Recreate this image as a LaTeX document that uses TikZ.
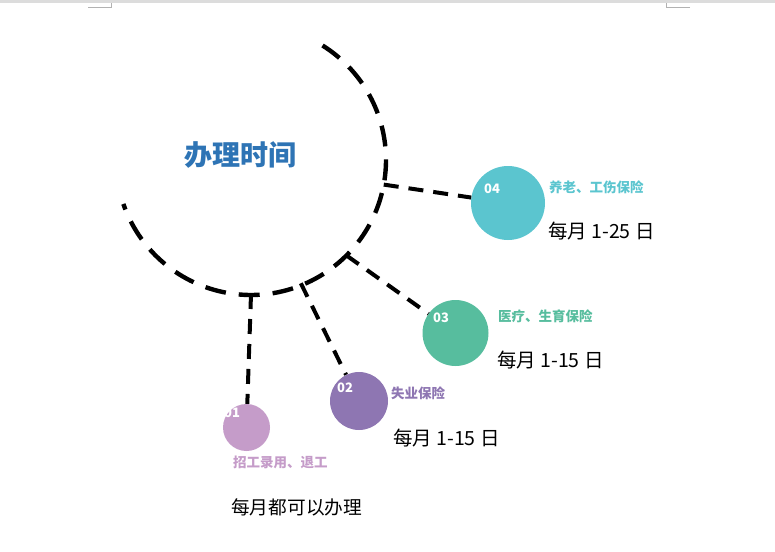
\documentclass[tikz,border=0pt]{standalone}
\usepackage{fontspec}
\usetikzlibrary{calc}
\setmainfont{Noto Sans CJK SC}
\newfontfamily\cjk{Noto Sans CJK SC}
\definecolor{cFour}{HTML}{5BC5CF}
\definecolor{cThree}{HTML}{57BD9E}
\definecolor{cTwo}{HTML}{8E76B2}
\definecolor{cOne}{HTML}{C59CC9}
\definecolor{cTitle}{HTML}{2E74B5}
\definecolor{cStrip}{HTML}{DCDCDC}
\begin{document}
\begin{tikzpicture}[x=1pt,y=-1pt,
  dot/.style={circle,fill=#1,draw=none,inner sep=0pt},
  num/.style={text=white,font=\cjk\bfseries\fontsize{13}{13}\selectfont,inner sep=0pt},
  cat/.style={text=#1,font=\cjk\bfseries\fontsize{13.5}{14}\selectfont,anchor=west,inner sep=0pt},
  when/.style={text=black,font=\cjk\fontsize{19.5}{20}\selectfont,anchor=west,inner sep=0pt},
  link/.style={line width=4pt,dash pattern=on 15pt off 10pt},
  hubarc/.style={line width=4.4pt,dash pattern=on 21pt off 13pt}]
\useasboundingbox (0,0) rectangle (775,551);
% page strip and corner marks
\fill[cStrip] (0,0) rectangle (775,3);
\draw[gray!60,line width=0.8pt] (88,7) -- (111,7) -- (111,3);
\draw[gray!60,line width=0.8pt] (690,7) -- (666,7) -- (666,3);
% hub arc
\coordinate (hub) at (251,160);
\draw[hubarc] plot[domain=-58:161,samples=120] ({251+135*cos(\x)},{160+135*sin(\x)});
\node[text=cTitle,font=\cjk\bfseries\fontsize{28}{28}\selectfont,inner sep=0pt] (title) at (240,155) {办理时间};
% arc points
\coordinate (a4) at ($(hub)+(10.5:135)$);
\coordinate (a3) at ($(hub)+(45:135)$);
\coordinate (a2) at ($(hub)+(68:133)$);
\coordinate (a1) at ($(hub)+(90:134)$);
% circles
\node[dot=cFour,minimum size=74pt] (c4) at (508,203) {};
\node[dot=cThree,minimum size=66pt] (c3) at (455.5,333) {};
\node[dot=cTwo,minimum size=58pt] (c2) at (359,401) {};
\node[dot=cOne,minimum size=47pt] (c1) at (246.5,427.5) {};
% connectors
\draw[link] (a4) -- (c4);
\draw[link] (a3) -- (c3);
\draw[link] (a2) -- (c2);
\draw[link] (a1) -- (c1);
% numbers
\node[num] (n4) at (492,189) {04};
\node[num] (n3) at (441,318) {03};
\node[num] (n2) at (345,388) {02};
\node[num] (n1) at (232,413) {01};
% categories
\node[cat=cFour] (t4) at (549,187) {养老、工伤保险};
\node[cat=cThree] (t3) at (498,316) {医疗、生育保险};
\node[cat=cTwo] (t2) at (391,393) {失业保险};
\node[cat=cOne] (t1) at (233,462) {招工录用、退工};
% dates
\node[when] (d4) at (548,231) {每月 1-25 日};
\node[when] (d3) at (497,360) {每月 1-15 日};
\node[when] (d2) at (393,438) {每月 1-15 日};
\node[when,font=\cjk\fontsize{18.7}{19}\selectfont] (d1) at (231,507) {每月都可以办理};
\end{tikzpicture}
\end{document}
